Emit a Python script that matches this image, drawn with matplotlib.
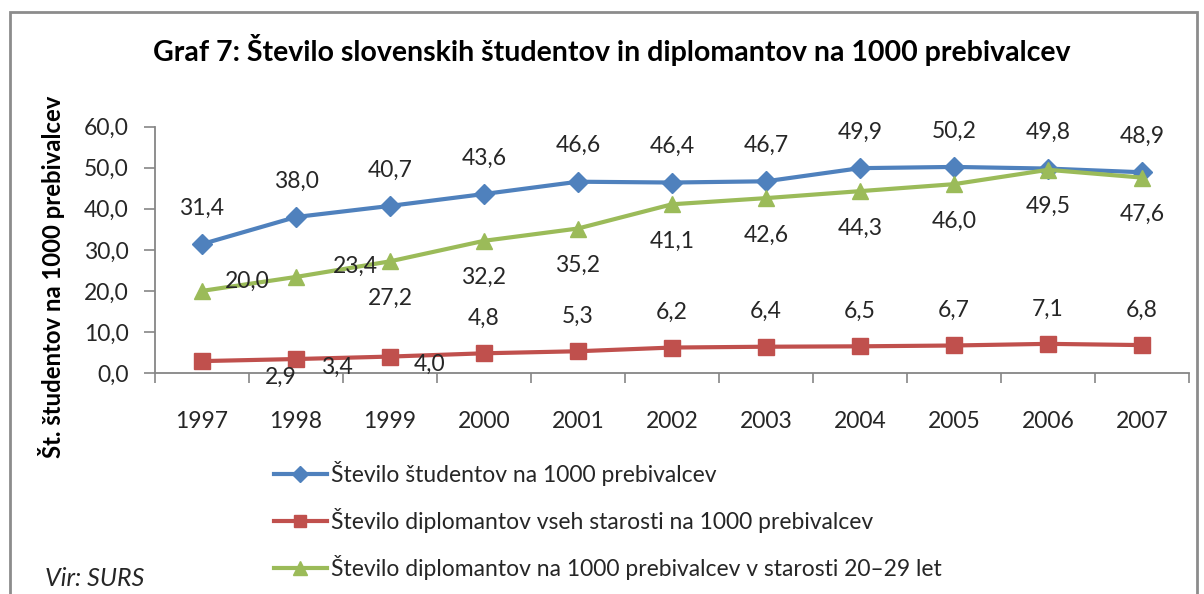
import matplotlib
matplotlib.use("Agg")
import matplotlib.pyplot as plt
from matplotlib.lines import Line2D
from matplotlib.patches import Rectangle

plt.rcParams['font.family'] = ['Lato', 'DejaVu Sans']

years = ["1997", "1998", "1999", "2000", "2001", "2002",
         "2003", "2004", "2005", "2006", "2007"]
studenti = [31.4, 38.0, 40.7, 43.6, 46.6, 46.4, 46.7, 49.9, 50.2, 49.8, 48.9]
diplomanti = [2.9, 3.4, 4.0, 4.8, 5.3, 6.2, 6.4, 6.5, 6.7, 7.1, 6.8]
diplomanti_2029 = [20.0, 23.4, 27.2, 32.2, 35.2, 41.1, 42.6, 44.3, 46.0, 49.5, 47.6]

names = ["Število študentov na 1000 prebivalcev",
         "Število diplomantov vseh starosti na 1000 prebivalcev",
         "Število diplomantov na 1000 prebivalcev v starosti 20–29 let"]

BLUE, RED, GREEN = "#4F81BD", "#C0504D", "#9BBB59"
TXT = "#262626"
FS = 16.5

fig = plt.figure(figsize=(12.04, 5.94), dpi=100)
ax = fig.add_axes([155/1204, 1-373/594, (1189-155)/1204, (373-126.7)/594])

x = list(range(len(years)))
series = [
    (studenti, BLUE, "D", 10, 36, {}),
    (diplomanti, RED, "s", 11.5, 35, {0: (79, -16), 1: (41, -8), 2: (40, -8)}),
    (diplomanti_2029, GREEN, "^", 12, -37, {0: (45, 10), 1: (59, 11)}),
]
for vals, col, mk, ms, dy, special in series:
    ax.plot(x, vals, color=col, lw=3, marker=mk, ms=ms, mec=col, mfc=col,
            clip_on=False, zorder=3)
    for i, v in enumerate(vals):
        off = special.get(i, (0, dy))
        ax.annotate(f"{v:.1f}".replace(".", ","), (i, v), xytext=off,
                    textcoords="offset pixels", ha="center", va="center",
                    fontsize=FS, color=TXT, zorder=4)

ax.set_xlim(-0.5, len(years) - 0.5)
ax.set_ylim(0, 60)
ax.set_yticks(range(0, 61, 10))
ax.set_yticklabels([f"{v},0" for v in range(0, 61, 10)])
ax.set_xticks([i - 0.5 for i in range(len(years) + 1)])
ax.set_xticklabels([])
ax.set_xticks(x, minor=True)
ax.set_xticklabels(years, minor=True)
ax.tick_params(axis="x", which="minor", length=0, pad=27, labelsize=FS, labelcolor=TXT)
ax.tick_params(axis="x", which="major", length=7, width=1.2, color="#868686")
ax.tick_params(axis="y", length=8, width=1.2, color="#868686", pad=11,
               labelsize=FS, labelcolor=TXT)
for s in ["top", "right"]:
    ax.spines[s].set_visible(False)
for s in ["left", "bottom"]:
    ax.spines[s].set_color("#868686")
    ax.spines[s].set_linewidth(1.3)

fig.text(52/1204, 1-277/594, "Št. študentov na 1000 prebivalcev", rotation=90,
         ha="center", va="center", fontsize=17.2, fontweight="bold", color="black")
fig.text(612/1204, 1-50/594,
         "Graf 7: Število slovenskih študentov in diplomantov na 1000 prebivalcev",
         ha="center", va="center", fontsize=20.5, fontweight="bold", color="black")

handles = [Line2D([], [], color=c, lw=3, marker=m, ms=ms * 0.8, mec=c, mfc=c)
           for c, m, ms in [(BLUE, "D", 10), (RED, "s", 11.5), (GREEN, "^", 12)]]
leg = fig.legend(handles, names, loc="upper left",
                 bbox_to_anchor=(258/1204, 1-445/594), frameon=False,
                 fontsize=FS, handlelength=2.3, handletextpad=0.2,
                 labelspacing=0.95, labelcolor=TXT, borderpad=0.2)

fig.text(45/1204, 1-578/594, "Vir: SURS", style="italic", fontsize=18,
         ha="left", va="center", color=TXT)

fig.patches.append(Rectangle((10/1204, -0.1), 1187/1204, 1.1 - 12/594,
                             transform=fig.transFigure, fill=False,
                             ec="#8c8c8c", lw=2))

fig.savefig("out.png", dpi=100)
